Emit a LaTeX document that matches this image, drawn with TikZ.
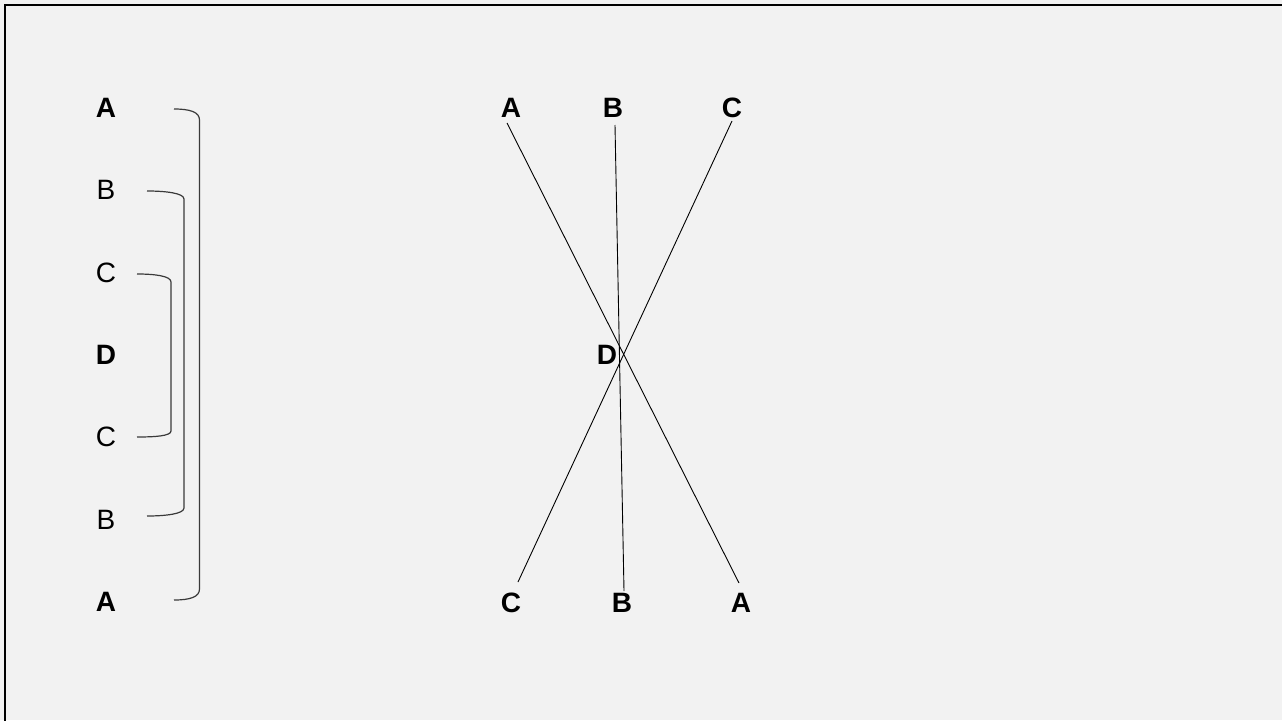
\documentclass[tikz,border=0pt]{standalone}
\usepackage{fontspec}
\setmainfont{Liberation Sans}
\definecolor{bg}{HTML}{F2F2F2}
\definecolor{brk}{HTML}{3A3A3A}
\begin{document}
\begin{tikzpicture}[x=1pt,y=-1pt,
  lab/.style={inner sep=0pt,font=\fontsize{28}{33}\selectfont},
  blab/.style={lab,font=\fontsize{28}{33}\selectfont\bfseries},
  brace/.style={draw=brk,line width=1.2pt},
  cross/.style={draw=black,line width=0.9pt}]
\useasboundingbox (0,0) rectangle (1282,720);
\fill[bg] (0,0) rectangle (1282,720);
\draw[line width=2.5pt] (5,730) -- (5,5) -- (1290,5);
% left column
\node[blab] (la1) at (106,108) {A};
\node[lab]  (lb1) at (106,190) {B};
\node[lab]  (lc1) at (106,273) {C};
\node[blab] (ld)  at (106,355) {D};
\node[lab]  (lc2) at (106,437) {C};
\node[lab]  (lb2) at (106,520) {B};
\node[blab] (la2) at (106,602) {A};
% brackets
\coordinate (ba1) at (174,109);
\coordinate (ba2) at (174,600);
\coordinate (bb1) at (147,191);
\coordinate (bb2) at (147,516);
\coordinate (bc1) at (137,274);
\coordinate (bc2) at (137,437);
\draw[brace] (ba1) .. controls (190,109) and (199.5,112) .. (199.5,120) -- (199.5,589) .. controls (199.5,597) and (190,600) .. (ba2);
\draw[brace] (bb1) .. controls (165,191) and (184,193) .. (184,199) -- (184,508) .. controls (184,514) and (165,516) .. (bb2);
\draw[brace] (bc1) .. controls (155,274) and (171,276) .. (171,282) -- (171,431) .. controls (171,436) and (155,437) .. (bc2);
% right part
\node[blab] (ta) at (511,108) {A};
\node[blab] (tb) at (613,108) {B};
\node[blab] (tc) at (732,108) {C};
\node[blab] (md) at (607,355) {D};
\node[blab] (bc) at (511,603) {C};
\node[blab] (bb) at (622,603) {B};
\node[blab] (ba) at (741,603) {A};
\coordinate (ta0) at (507,123);
\coordinate (ta1) at (739,583);
\coordinate (tb0) at (615,125);
\coordinate (tb1) at (624,591);
\coordinate (tc0) at (732,121);
\coordinate (tc1) at (518,582);
\draw[cross] (ta0) -- (ta1);
\draw[cross] (tb0) -- (tb1);
\draw[cross] (tc0) -- (tc1);
\end{tikzpicture}
\end{document}
